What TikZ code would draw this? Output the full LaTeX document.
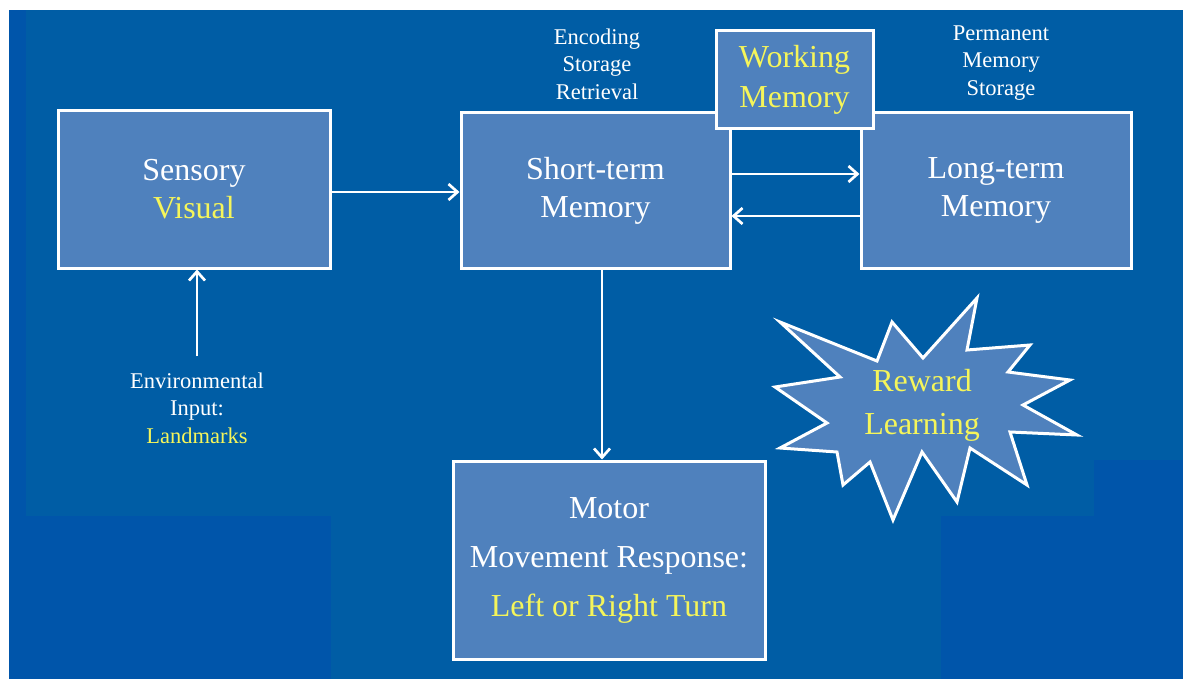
\documentclass[tikz,border=0pt]{standalone}
\usepackage{fontspec}
\setmainfont{Liberation Serif}
\usetikzlibrary{arrows.meta,positioning}
\definecolor{slideblue}{RGB}{0,93,165}
\definecolor{patchblue}{RGB}{0,85,170}
\definecolor{boxblue}{RGB}{79,129,189}
\definecolor{hiyellow}{RGB}{245,245,90}

\begin{document}
\begin{tikzpicture}[x=1pt,y=-1pt,
    stagebox/.style={draw=white,line width=3pt,fill=boxblue,text=white,align=center,
      font=\fontsize{32}{38}\selectfont},
    note/.style={text=white,align=center,font=\fontsize{22.5}{27.5}\selectfont},
    flow/.style={draw=white,line width=2.7pt,-{Straight Barb[length=9pt,width=16pt]}}]
                \useasboundingbox (0,0) rectangle (1183,679);
                \fill[white] (0,0) rectangle (1183,679);
                \fill[slideblue] (9,10) rectangle (1183,679);
                \fill[patchblue] (9,10) rectangle (26,679);
                \fill[patchblue] (26,516) rectangle (331,679);
                \fill[patchblue] (941,516) rectangle (1183,679);
                \fill[patchblue] (1094,460) rectangle (1183,516);
                \node[stagebox,minimum width=272pt,minimum height=157pt] (sensory) at (194,189.5)
                    {Sensory\\{\color{hiyellow}Visual}};
                \node[stagebox,minimum width=269pt,minimum height=155pt] (st) at (595.5,190.5)
                    {Short-term\\Memory};
                \node[stagebox,minimum width=270pt,minimum height=155pt] (lt) at (996,190.5)
                    {Long-term\\Memory};
                \node[stagebox,minimum width=157pt,minimum height=98pt,text=hiyellow,
                    font=\fontsize{32}{40}\selectfont] (wm) at (794.5,80) {Working\\Memory};
                \node[stagebox,minimum width=312pt,minimum height=198pt,
                    font=\fontsize{32}{49}\selectfont] (motor) at (609,560)
                    {Motor\\Movement Response:\\{\color{hiyellow}Left or Right Turn}};
                \node[note] (encode) at (597,64) {Encoding\\Storage\\Retrieval};
                \node[note] (perm) at (1001,63) {Permanent\\Memory\\Storage};
                \node[note,inner sep=0pt] (env) at (197,408)
                    {Environmental\\Input:\\{\color{hiyellow}Landmarks}};
                \draw[white,line width=3pt,fill=boxblue,line join=miter]
                    (780,322) -- (877,361) -- (892,322) -- (923,358) -- (977,298)
                    -- (967,350) -- (1030,345) -- (1008,372) -- (1070,380) -- (1023,405)
                    -- (1077,435) -- (1010,432) -- (1027,485) -- (970,448) -- (957,502)
                    -- (922,452) -- (893,520) -- (870,462) -- (843,485) -- (837,452)
                    -- (780,448) -- (827,423) -- (775,387) -- (840,377) -- cycle;
                \node[text=hiyellow,align=center,font=\fontsize{32}{43}\selectfont] (reward)
                    at (922,405) {Reward\\Learning};
                \draw[flow] ([yshift=-2.5pt]sensory.east) -- ([yshift=-2.5pt]sensory.east -| st.west);
                \draw[flow] ([yshift=16.5pt]st.east) -- ([yshift=16.5pt]lt.west);
                \draw[flow] ([yshift=-25.5pt]lt.west) -- ([yshift=-25.5pt]st.east);
                \draw[flow] ([xshift=6.5pt]st.south) -- ([xshift=6.5pt]st.south |- motor.north);
                \draw[flow,shorten <=16pt] (env.north) -- (env.north |- sensory.south);
            \end{tikzpicture}
\end{document}
